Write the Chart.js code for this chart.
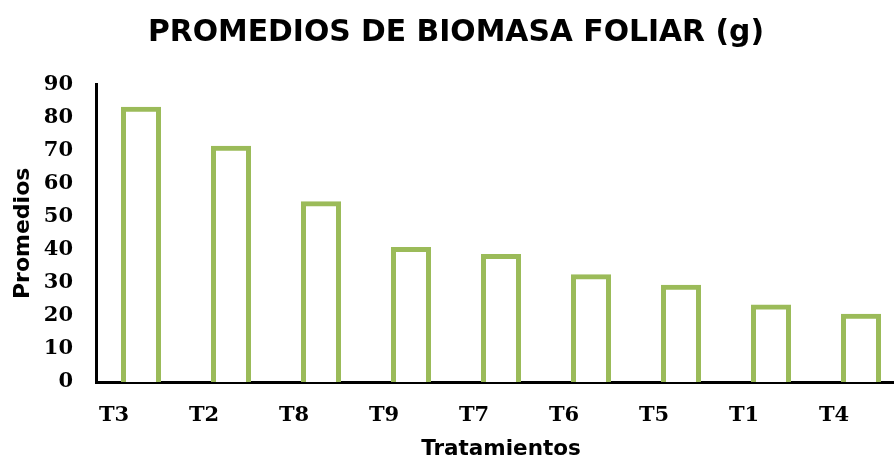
<!DOCTYPE html>
<html>
<head>
<meta charset="utf-8">
<script src="https://cdn.jsdelivr.net/npm/chart.js@4.4.0/dist/chart.umd.min.js"></script>
<style>
    html, body { margin: 0; padding: 0; background: #fff; overflow: hidden; }
    #wrap { width: 910px; height: 459px; }
</style>
</head>
<body>
<div id="wrap"><canvas id="biomasaChart" width="910" height="459"></canvas></div>
<script>
// 数据
const tratamientos = ['T3', 'T2', 'T8', 'T9', 'T7', 'T6', 'T5', 'T1', 'T4'];
const promedios = [82.6, 70.8, 54.0, 40.1, 38.0, 31.9, 28.7, 22.7, 19.9];
const yTicks = [0, 10, 20, 30, 40, 50, 60, 70, 80, 90];

const titulo = 'PROMEDIOS DE BIOMASA FOLIAR (g)';
const tituloY = 'Promedios';
const tituloX = 'Tratamientos';

const verde = '#9BBB59';
const fuenteTick = { family: '"DejaVu Serif", serif', size: 21, weight: 'bold' };
const fuenteTitulo = { family: '"DejaVu Sans", sans-serif', weight: 'bold' };

const ctx = document.getElementById('biomasaChart').getContext('2d');
const biomasaChart = new Chart(ctx, {
    type: 'bar',
    data: {
        labels: tratamientos,
        datasets: [{
            label: tituloY,
            data: promedios,
            backgroundColor: '#ffffff',
            borderColor: verde,
            borderWidth: 5,
            // 边框居中于柱边（类似 Excel）
            inflateAmount: 2.5,
            barPercentage: 0.389,
            categoryPercentage: 1
        }]
    },
    options: {
        responsive: false,
        animation: false,
        layout: { padding: { left: 6, right: 4, top: 0, bottom: 0 } },
        plugins: {
            legend: { display: false },
            tooltip: { enabled: false },
            title: {
                display: true,
                text: titulo,
                color: '#000',
                font: Object.assign({ size: 29.8 }, fuenteTitulo),
                padding: { top: 15, bottom: 34 }
            }
        },
        scales: {
            x: {
                z: 1,
                afterFit: function(scale) {
                    scale.height = 77;
                },
                grid: { display: false, drawTicks: false },
                border: { display: true, color: '#000', width: 3 },
                ticks: { color: '#000', font: fuenteTick, padding: 21, maxRotation: 0, labelOffset: -27 },
                title: {
                    display: true,
                    text: tituloX,
                    color: '#000',
                    font: Object.assign({ size: 21.5 }, fuenteTitulo),
                    padding: { top: 0, bottom: -3 }
                }
            },
            y: {
                z: 1,
                min: yTicks[0],
                max: yTicks[yTicks.length - 1],
                afterBuildTicks: function(scale) {
                    scale.ticks = yTicks.map(v => ({ value: v }));
                },
                afterFit: function(scale) {
                    scale.width = 90;
                },
                grid: { display: false, drawTicks: false },
                border: { display: true, color: '#000', width: 3 },
                ticks: { color: '#000', font: fuenteTick, padding: 23 },
                title: {
                    display: true,
                    text: tituloY,
                    color: '#000',
                    font: Object.assign({ size: 22 }, fuenteTitulo),
                    padding: { top: 4, bottom: 4 }
                }
            }
        }
    }
});
</script>
</body>
</html>
